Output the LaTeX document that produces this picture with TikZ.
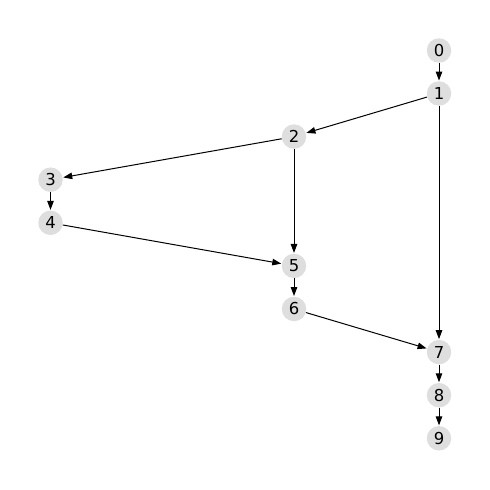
\documentclass[tikz,border=0pt]{standalone}
\usepackage{fontspec}
\setmainfont{DejaVu Sans}
\usetikzlibrary{arrows.meta}
\begin{document}
\begin{tikzpicture}[x=1bp,y=-1bp,
  vertex/.style={circle,fill=black!13,draw=none,minimum size=24.5bp,inner sep=0pt,font=\fontsize{16.5}{19}\selectfont},
  edge/.style={-{Triangle[length=9bp,width=6.5bp]},line width=1bp,black,shorten >=0.5bp}]
\useasboundingbox (0,0) rectangle (490,490);
\node[vertex] (n0) at (439,50.5) {0};
\node[vertex] (n1) at (439,93.5) {1};
\node[vertex] (n2) at (294,136.6) {2};
\node[vertex] (n3) at (50.5,179.7) {3};
\node[vertex] (n4) at (50.5,222.8) {4};
\node[vertex] (n5) at (294,265.9) {5};
\node[vertex] (n6) at (294,309) {6};
\node[vertex] (n7) at (439,352.1) {7};
\node[vertex] (n8) at (439,395.2) {8};
\node[vertex] (n9) at (439,438.3) {9};
\draw[edge] (n0) -- (n1);
\draw[edge] (n1) -- (n2);
\draw[edge] (n1) -- (n7);
\draw[edge] (n2) -- (n3);
\draw[edge] (n2) -- (n5);
\draw[edge] (n3) -- (n4);
\draw[edge] (n4) -- (n5);
\draw[edge] (n5) -- (n6);
\draw[edge] (n6) -- (n7);
\draw[edge] (n7) -- (n8);
\draw[edge] (n8) -- (n9);
\end{tikzpicture}
\end{document}
